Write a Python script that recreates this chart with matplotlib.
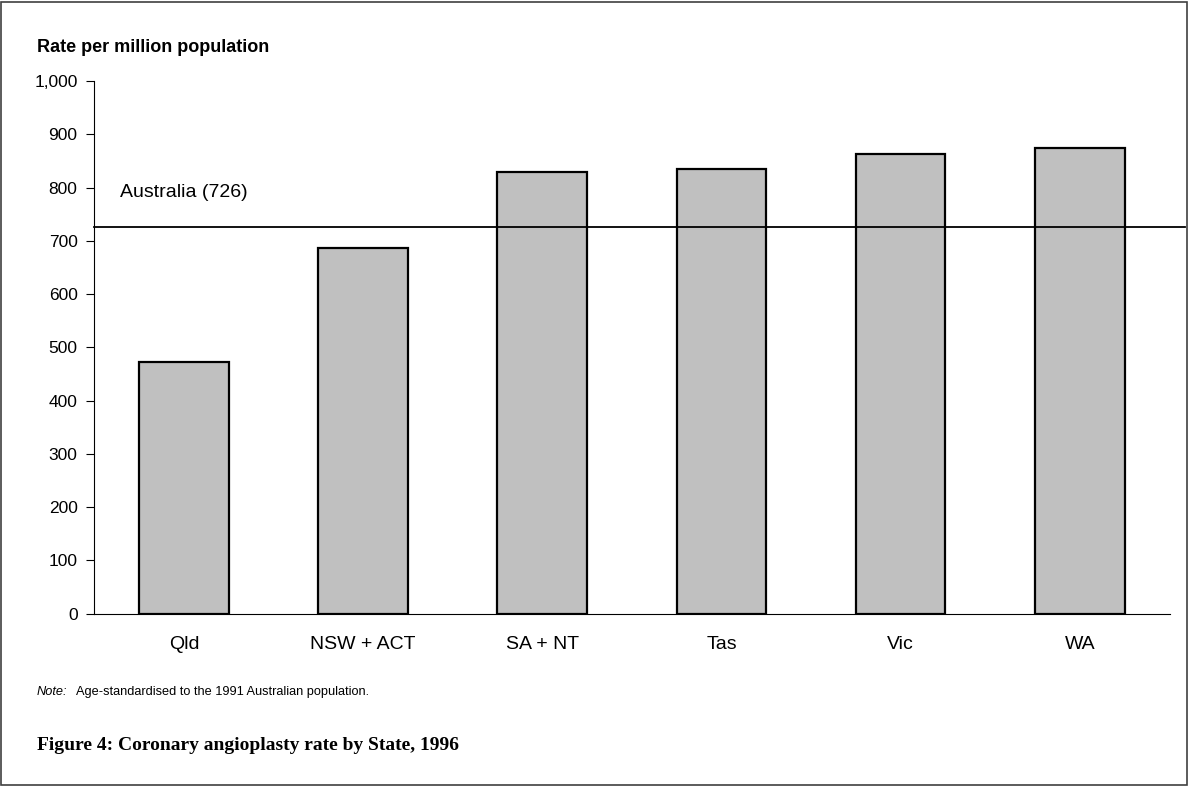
import matplotlib.pyplot as plt
from matplotlib.patches import Rectangle
from matplotlib.ticker import FuncFormatter

states = ['Qld', 'NSW + ACT', 'SA + NT', 'Tas', 'Vic', 'WA']
rates = [472, 686, 829, 834, 862, 875]
australia_rate = 726
y_ticks = [0, 100, 200, 300, 400, 500, 600, 700, 800, 900, 1000]

plt.rcParams['font.family'] = ['Liberation Sans', 'DejaVu Sans']

fig = plt.figure(figsize=(11.89, 7.87), dpi=100)
ax = fig.add_axes([0.0793, 0.2202, 0.9043, 0.6769])

# Bars per state
x = range(len(states))
ax.bar(x, rates, width=0.5, color='#c0c0c0', edgecolor='black', linewidth=1.6, zorder=2)

# National rate reference line, running slightly past the plot area
ax.axhline(australia_rate, xmin=0, xmax=1.0144, color='black', linewidth=1.3, clip_on=False, zorder=3)
ax.text(-0.356, 790, 'Australia (%d)' % australia_rate, fontsize=14,
        ha='left', va='center')

ax.set_xlim(-0.5, len(states) - 0.5)
ax.set_ylim(0, 1000)
ax.set_yticks(y_ticks)
ax.yaxis.set_major_formatter(FuncFormatter(lambda v, p: '{:,.0f}'.format(v)))
ax.set_xticks(list(x))
ax.set_xticklabels(states)
ax.tick_params(axis='y', length=6, width=0.8, labelsize=12.5, pad=6)
ax.tick_params(axis='x', length=0, labelsize=14, pad=16)

for side in ['top', 'right']:
    ax.spines[side].set_visible(False)
for side in ['left', 'bottom']:
    ax.spines[side].set_linewidth(0.8)

# Titles, notes and caption
fig.text(37 / 1189, 1 - 47 / 787, 'Rate per million population', fontsize=13,
         fontweight='bold', ha='left', va='center')
fig.text(37 / 1189, 1 - 692 / 787, 'Note:', fontsize=9.2, style='italic', ha='left', va='center')
fig.text(76 / 1189, 1 - 692 / 787, 'Age-standardised to the 1991 Australian population.',
         fontsize=9.2, ha='left', va='center')
fig.text(37 / 1189, 1 - 746 / 787, 'Figure 4: Coronary angioplasty rate by State, 1996',
         fontsize=14, fontweight='bold', family='Liberation Serif', ha='left', va='center')

# Outer frame
fig.patches.append(Rectangle((0.001, 0.002), 0.997, 0.996, transform=fig.transFigure,
                             fill=False, edgecolor='#404040', linewidth=1.2))

fig.savefig('out.png', dpi=100)
